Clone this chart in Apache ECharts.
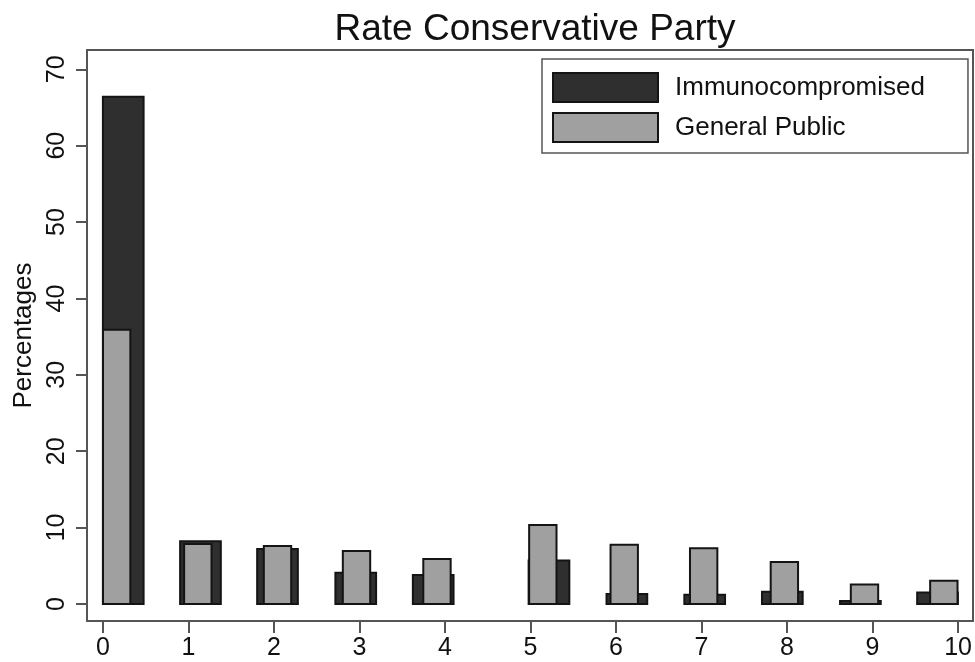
<!DOCTYPE html>
<html>
<head>
<meta charset="utf-8">
<script src="https://cdn.jsdelivr.net/npm/echarts@6/dist/echarts.min.js"></script>
<style>
html,body{margin:0;padding:0;background:#fff;}
#chart{width:975px;height:662px;}
</style>
</head>
<body>
<div id="chart"></div>
<script>
// ---- data ----
const xTickLabels = [0, 1, 2, 3, 4, 5, 6, 7, 8, 9, 10];
const yTickLabels = [0, 10, 20, 30, 40, 50, 60, 70];
// bar centres on the rating axis, as plotted
const immunoX = [0.237, 1.140, 2.041, 2.956, 3.862, 5.216, 6.127, 7.037, 7.945, 8.858, 9.760];
const publicX = [0.160, 1.109, 2.041, 2.965, 3.906, 5.144, 6.096, 7.025, 7.969, 8.906, 9.834];
// percentages
const immunoPct = [66.4, 8.2, 7.2, 4.1, 3.8, 5.7, 1.3, 1.2, 1.6, 0.4, 1.5];
const publicPct = [35.9, 7.85, 7.6, 6.95, 5.9, 10.35, 7.75, 7.3, 5.5, 2.55, 3.05];

const FONT = 'Liberation Sans, Arial, Helvetica, sans-serif';
const DARK = '#2f2f2f', LIGHT = '#a0a0a0', EDGE = '#141414';

function makeRender(widthUnits) {
  return function (params, api) {
    const xc = api.value(0), v = api.value(1);
    const p0 = api.coord([xc - widthUnits / 2, v]);
    const p1 = api.coord([xc + widthUnits / 2, 0]);
    return {
      type: 'rect',
      shape: { x: p0[0], y: p0[1], width: p1[0] - p0[0], height: p1[1] - p0[1] },
      style: { fill: api.visual('color'), stroke: EDGE, lineWidth: 2 }
    };
  };
}

const chart = echarts.init(document.getElementById('chart'), null, { renderer: 'canvas' });
chart.setOption({
  backgroundColor: '#fff',
  animation: false,
  textStyle: { fontFamily: FONT },
  title: {
    text: 'Rate Conservative Party',
    left: 530, top: 6, textAlign: 'center',
    textStyle: { fontFamily: FONT, fontSize: 37, fontWeight: 'normal', color: '#111' }
  },
  legend: {
    orient: 'vertical',
    left: 542, top: 59,
    padding: [13, 43, 10, 10],
    itemWidth: 105, itemHeight: 29, itemGap: 9,
    borderColor: '#555', borderWidth: 1.5,
    textStyle: { fontFamily: FONT, fontSize: 26, color: '#111', padding: [0, 0, 0, 12] },
    data: [
      { name: 'Immunocompromised', icon: 'rect', itemStyle: { color: DARK, borderColor: EDGE, borderWidth: 2 } },
      { name: 'General Public', icon: 'rect', itemStyle: { color: LIGHT, borderColor: EDGE, borderWidth: 2 } }
    ]
  },
  grid: {
    left: 87, top: 50, right: 2, bottom: 41,
    show: true, borderColor: '#555', borderWidth: 2, backgroundColor: '#fff'
  },
  xAxis: {
    type: 'value',
    position: 'bottom',
    min: -0.187, max: 10.175,
    splitLine: { show: false },
    axisLine: { show: false, onZero: false },
    axisTick: { show: true, length: 12, inside: false, lineStyle: { color: '#555', width: 2 }, customValues: xTickLabels },
    axisLabel: { fontFamily: FONT, fontSize: 25, color: '#111', margin: 15, customValues: xTickLabels }
  },
  yAxis: {
    type: 'value',
    position: 'left',
    min: -2.225, max: 72.53,
    name: 'Percentages',
    nameLocation: 'middle',
    nameGap: 50,
    nameTextStyle: { fontFamily: FONT, fontSize: 26, color: '#111' },
    splitLine: { show: false },
    axisLine: { show: false, onZero: false },
    axisTick: { show: true, length: 11, inside: false, lineStyle: { color: '#555', width: 2 }, customValues: yTickLabels },
    axisLabel: { fontFamily: FONT, fontSize: 25, color: '#111', rotate: 90, margin: 17, customValues: yTickLabels }
  },
  series: [
    {
      name: 'Immunocompromised',
      type: 'custom',
      itemStyle: { color: DARK },
      renderItem: makeRender(0.476),
      encode: { x: 0, y: 1 },
      data: immunoX.map((x, i) => [x, immunoPct[i]])
    },
    {
      name: 'General Public',
      type: 'custom',
      itemStyle: { color: LIGHT },
      renderItem: makeRender(0.32),
      encode: { x: 0, y: 1 },
      data: publicX.map((x, i) => [x, publicPct[i]])
    }
  ]
});
</script>
</body>
</html>
